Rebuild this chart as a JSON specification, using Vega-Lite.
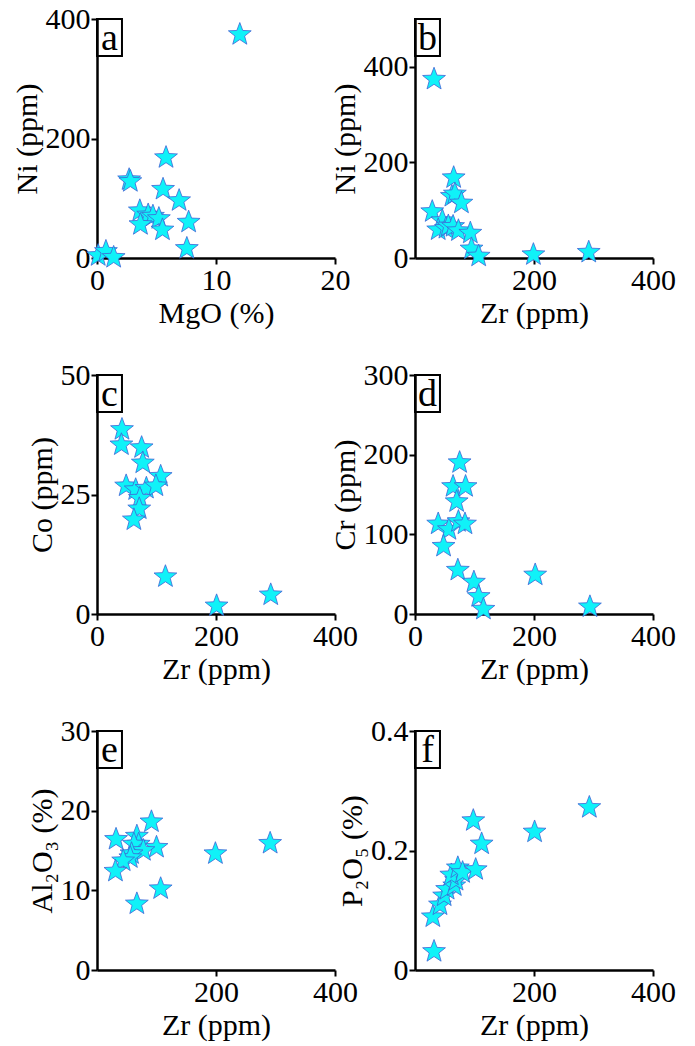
{
  "$schema": "https://vega.github.io/schema/vega-lite/v6.json",
  "padding": {"left": 12, "top": 4, "right": 5, "bottom": 5},
  "background": "white",
  "datasets": {
    "a": [
      {"x": 12.0, "y": 374}, {"x": 5.8, "y": 168}, {"x": 2.7, "y": 131}, {"x": 2.8, "y": 128},
      {"x": 5.55, "y": 115}, {"x": 6.9, "y": 96}, {"x": 3.6, "y": 79}, {"x": 4.3, "y": 72},
      {"x": 4.7, "y": 70}, {"x": 5.2, "y": 66}, {"x": 3.65, "y": 56}, {"x": 7.7, "y": 60},
      {"x": 5.5, "y": 47}, {"x": 7.55, "y": 16}, {"x": 0.1, "y": 4}, {"x": 0.75, "y": 11}, {"x": 1.4, "y": 1}
    ],
    "b": [
      {"x": 32, "y": 374}, {"x": 65, "y": 168}, {"x": 62, "y": 129}, {"x": 67, "y": 134},
      {"x": 78, "y": 115}, {"x": 29, "y": 97}, {"x": 46, "y": 78}, {"x": 39, "y": 59},
      {"x": 52, "y": 62}, {"x": 56, "y": 67}, {"x": 64, "y": 66}, {"x": 73, "y": 57},
      {"x": 93, "y": 52}, {"x": 95, "y": 19}, {"x": 107, "y": 4}, {"x": 199, "y": 7}, {"x": 292, "y": 12}
    ],
    "c": [
      {"x": 42, "y": 38.6}, {"x": 41, "y": 35.4}, {"x": 75, "y": 34.8}, {"x": 77, "y": 31.6},
      {"x": 107, "y": 28.8}, {"x": 49, "y": 26.8}, {"x": 65, "y": 26}, {"x": 83, "y": 26.3},
      {"x": 99, "y": 26.8}, {"x": 72, "y": 24.2}, {"x": 71, "y": 22}, {"x": 62, "y": 19.7},
      {"x": 115, "y": 7.8}, {"x": 201, "y": 1.7}, {"x": 292, "y": 4}
    ],
    "d": [
      {"x": 75, "y": 190}, {"x": 64, "y": 160}, {"x": 85, "y": 160}, {"x": 70, "y": 141},
      {"x": 39, "y": 113}, {"x": 57, "y": 106}, {"x": 73, "y": 116}, {"x": 84, "y": 113},
      {"x": 48, "y": 85}, {"x": 72, "y": 55}, {"x": 99, "y": 40}, {"x": 107, "y": 22},
      {"x": 115, "y": 6}, {"x": 202, "y": 49}, {"x": 294, "y": 9}
    ],
    "e": [
      {"x": 32, "y": 16.4}, {"x": 91.5, "y": 18.6}, {"x": 100, "y": 15.4}, {"x": 67, "y": 16.8},
      {"x": 70, "y": 15.8}, {"x": 62, "y": 15.8}, {"x": 78, "y": 15}, {"x": 58, "y": 14.6},
      {"x": 56, "y": 14.1}, {"x": 44, "y": 13.7}, {"x": 31, "y": 12.4}, {"x": 107, "y": 10.2},
      {"x": 67, "y": 8.3}, {"x": 199, "y": 14.6}, {"x": 291, "y": 15.9}
    ],
    "f": [
      {"x": 32, "y": 0.031}, {"x": 30, "y": 0.089}, {"x": 42, "y": 0.109}, {"x": 49, "y": 0.124},
      {"x": 54, "y": 0.135}, {"x": 66, "y": 0.141}, {"x": 69, "y": 0.15}, {"x": 61, "y": 0.159},
      {"x": 72, "y": 0.171}, {"x": 80, "y": 0.163}, {"x": 102, "y": 0.168}, {"x": 112, "y": 0.211},
      {"x": 98, "y": 0.25}, {"x": 201, "y": 0.231}, {"x": 293, "y": 0.272}
    ],
    "one": [{"k": 1}]
  },
  "columns": 2,
  "spacing": {"row": 117, "column": 80},
  "bounds": "flush",
  "concat": [
    {
      "width": 238, "height": 239,
      "layer": [
        {
          "data": {"name": "a"},
          "mark": {"type": "point", "shape": "M0,-1L0.2469,-0.3398L0.9511,-0.309L0.3995,0.1298L0.5878,0.809L0,0.42L-0.5878,0.809L-0.3995,0.1298L-0.9511,-0.309L-0.2469,-0.3398Z", "size": 576, "filled": true, "fill": "#10F2F8", "stroke": "#3F63D6", "strokeWidth": 0.8, "opacity": 1},
          "encoding": {
            "x": {"field": "x", "type": "quantitative", "scale": {"domain": [0, 20], "nice": false, "zero": false}, "axis": {"values": [0, 10, 20], "title": "MgO (%)"}},
            "y": {"field": "y", "type": "quantitative", "scale": {"domain": [0, 400], "nice": false, "zero": false}, "axis": {"values": [0, 200, 400], "title": "Ni (ppm)"}}
          }
        },
        {
          "data": {"name": "one"},
          "mark": {"type": "point", "shape": "M0,0H1.35V2H0Z", "size": 1369, "filled": false, "stroke": "black", "strokeWidth": 2, "opacity": 1},
          "encoding": {"x": {"datum": 0, "type": "quantitative"}, "y": {"datum": 400, "type": "quantitative"}}
        },
        {
          "data": {"name": "one"},
          "mark": {"type": "text", "fontSize": 38, "align": "center", "baseline": "alphabetic", "color": "black"},
          "encoding": {"x": {"datum": 1.05, "type": "quantitative"}, "y": {"datum": 348, "type": "quantitative"}, "text": {"value": "a"}}
        }
      ]
    },
    {
      "width": 238, "height": 239,
      "layer": [
        {
          "data": {"name": "b"},
          "mark": {"type": "point", "shape": "M0,-1L0.2469,-0.3398L0.9511,-0.309L0.3995,0.1298L0.5878,0.809L0,0.42L-0.5878,0.809L-0.3995,0.1298L-0.9511,-0.309L-0.2469,-0.3398Z", "size": 576, "filled": true, "fill": "#10F2F8", "stroke": "#3F63D6", "strokeWidth": 0.8, "opacity": 1},
          "encoding": {
            "x": {"field": "x", "type": "quantitative", "scale": {"domain": [0, 400], "nice": false, "zero": false}, "axis": {"values": [200, 400], "title": "Zr (ppm)"}},
            "y": {"field": "y", "type": "quantitative", "scale": {"domain": [0, 500], "nice": false, "zero": false}, "axis": {"values": [0, 200, 400], "title": "Ni (ppm)"}}
          }
        },
        {
          "data": {"name": "one"},
          "mark": {"type": "point", "shape": "M0,0H1.35V2H0Z", "size": 1369, "filled": false, "stroke": "black", "strokeWidth": 2, "opacity": 1},
          "encoding": {"x": {"datum": 0, "type": "quantitative"}, "y": {"datum": 500, "type": "quantitative"}}
        },
        {
          "data": {"name": "one"},
          "mark": {"type": "text", "fontSize": 38, "align": "center", "baseline": "alphabetic", "color": "black"},
          "encoding": {"x": {"datum": 21, "type": "quantitative"}, "y": {"datum": 435, "type": "quantitative"}, "text": {"value": "b"}}
        }
      ]
    },
    {
      "width": 238, "height": 239,
      "layer": [
        {
          "data": {"name": "c"},
          "mark": {"type": "point", "shape": "M0,-1L0.2469,-0.3398L0.9511,-0.309L0.3995,0.1298L0.5878,0.809L0,0.42L-0.5878,0.809L-0.3995,0.1298L-0.9511,-0.309L-0.2469,-0.3398Z", "size": 576, "filled": true, "fill": "#10F2F8", "stroke": "#3F63D6", "strokeWidth": 0.8, "opacity": 1},
          "encoding": {
            "x": {"field": "x", "type": "quantitative", "scale": {"domain": [0, 400], "nice": false, "zero": false}, "axis": {"values": [0, 200, 400], "title": "Zr (ppm)"}},
            "y": {"field": "y", "type": "quantitative", "scale": {"domain": [0, 50], "nice": false, "zero": false}, "axis": {"values": [0, 25, 50], "title": "Co (ppm)"}}
          }
        },
        {
          "data": {"name": "one"},
          "mark": {"type": "point", "shape": "M0,0H1.35V2H0Z", "size": 1369, "filled": false, "stroke": "black", "strokeWidth": 2, "opacity": 1},
          "encoding": {"x": {"datum": 0, "type": "quantitative"}, "y": {"datum": 50, "type": "quantitative"}}
        },
        {
          "data": {"name": "one"},
          "mark": {"type": "text", "fontSize": 38, "align": "center", "baseline": "alphabetic", "color": "black"},
          "encoding": {"x": {"datum": 21, "type": "quantitative"}, "y": {"datum": 43.5, "type": "quantitative"}, "text": {"value": "c"}}
        }
      ]
    },
    {
      "width": 238, "height": 239,
      "layer": [
        {
          "data": {"name": "d"},
          "mark": {"type": "point", "shape": "M0,-1L0.2469,-0.3398L0.9511,-0.309L0.3995,0.1298L0.5878,0.809L0,0.42L-0.5878,0.809L-0.3995,0.1298L-0.9511,-0.309L-0.2469,-0.3398Z", "size": 576, "filled": true, "fill": "#10F2F8", "stroke": "#3F63D6", "strokeWidth": 0.8, "opacity": 1},
          "encoding": {
            "x": {"field": "x", "type": "quantitative", "scale": {"domain": [0, 400], "nice": false, "zero": false}, "axis": {"values": [0, 200, 400], "title": "Zr (ppm)"}},
            "y": {"field": "y", "type": "quantitative", "scale": {"domain": [0, 300], "nice": false, "zero": false}, "axis": {"values": [0, 100, 200, 300], "title": "Cr (ppm)"}}
          }
        },
        {
          "data": {"name": "one"},
          "mark": {"type": "point", "shape": "M0,0H1.35V2H0Z", "size": 1369, "filled": false, "stroke": "black", "strokeWidth": 2, "opacity": 1},
          "encoding": {"x": {"datum": 0, "type": "quantitative"}, "y": {"datum": 300, "type": "quantitative"}}
        },
        {
          "data": {"name": "one"},
          "mark": {"type": "text", "fontSize": 38, "align": "center", "baseline": "alphabetic", "color": "black"},
          "encoding": {"x": {"datum": 21, "type": "quantitative"}, "y": {"datum": 261, "type": "quantitative"}, "text": {"value": "d"}}
        }
      ]
    },
    {
      "width": 238, "height": 239,
      "layer": [
        {
          "data": {"name": "e"},
          "mark": {"type": "point", "shape": "M0,-1L0.2469,-0.3398L0.9511,-0.309L0.3995,0.1298L0.5878,0.809L0,0.42L-0.5878,0.809L-0.3995,0.1298L-0.9511,-0.309L-0.2469,-0.3398Z", "size": 576, "filled": true, "fill": "#10F2F8", "stroke": "#3F63D6", "strokeWidth": 0.8, "opacity": 1},
          "encoding": {
            "x": {"field": "x", "type": "quantitative", "scale": {"domain": [0, 400], "nice": false, "zero": false}, "axis": {"values": [200, 400], "title": "Zr (ppm)"}},
            "y": {"field": "y", "type": "quantitative", "scale": {"domain": [0, 30], "nice": false, "zero": false}, "axis": {"values": [0, 10, 20, 30], "title": "Al₂O₃ (%)"}}
          }
        },
        {
          "data": {"name": "one"},
          "mark": {"type": "point", "shape": "M0,0H1.35V2H0Z", "size": 1369, "filled": false, "stroke": "black", "strokeWidth": 2, "opacity": 1},
          "encoding": {"x": {"datum": 0, "type": "quantitative"}, "y": {"datum": 30, "type": "quantitative"}}
        },
        {
          "data": {"name": "one"},
          "mark": {"type": "text", "fontSize": 38, "align": "center", "baseline": "alphabetic", "color": "black"},
          "encoding": {"x": {"datum": 21, "type": "quantitative"}, "y": {"datum": 26.1, "type": "quantitative"}, "text": {"value": "e"}}
        }
      ]
    },
    {
      "width": 238, "height": 239,
      "layer": [
        {
          "data": {"name": "f"},
          "mark": {"type": "point", "shape": "M0,-1L0.2469,-0.3398L0.9511,-0.309L0.3995,0.1298L0.5878,0.809L0,0.42L-0.5878,0.809L-0.3995,0.1298L-0.9511,-0.309L-0.2469,-0.3398Z", "size": 576, "filled": true, "fill": "#10F2F8", "stroke": "#3F63D6", "strokeWidth": 0.8, "opacity": 1},
          "encoding": {
            "x": {"field": "x", "type": "quantitative", "scale": {"domain": [0, 400], "nice": false, "zero": false}, "axis": {"values": [200, 400], "title": "Zr (ppm)"}},
            "y": {"field": "y", "type": "quantitative", "scale": {"domain": [0, 0.4], "nice": false, "zero": false}, "axis": {"values": [0, 0.2, 0.4], "format": "~g", "title": "P₂O₅ (%)"}}
          }
        },
        {
          "data": {"name": "one"},
          "mark": {"type": "point", "shape": "M0,0H1.35V2H0Z", "size": 1369, "filled": false, "stroke": "black", "strokeWidth": 2, "opacity": 1},
          "encoding": {"x": {"datum": 0, "type": "quantitative"}, "y": {"datum": 0.4, "type": "quantitative"}}
        },
        {
          "data": {"name": "one"},
          "mark": {"type": "text", "fontSize": 38, "align": "center", "baseline": "alphabetic", "color": "black"},
          "encoding": {"x": {"datum": 21, "type": "quantitative"}, "y": {"datum": 0.348, "type": "quantitative"}, "text": {"value": "f"}}
        }
      ]
    }
  ],
  "config": {
    "font": "Times New Roman, Liberation Serif, serif",
    "text": {"font": "Times New Roman, Liberation Serif, serif"},
    "view": {"stroke": null},
    "style": {
      "guide-label": {"font": "Times New Roman, Liberation Serif, serif"},
      "guide-title": {"font": "Times New Roman, Liberation Serif, serif"}
    },
    "axis": {
      "grid": false,
      "domainColor": "black",
      "domainWidth": 2.5,
      "tickColor": "black",
      "tickWidth": 2,
      "tickSize": 6,
      "labelFont": "Times New Roman, Liberation Serif, serif",
      "labelFontSize": 30,
      "labelColor": "black",
      "labelPadding": 1,
      "labelFlush": false,
      "labelOverlap": false,
      "titleFont": "Times New Roman, Liberation Serif, serif",
      "titleFontSize": 30,
      "titleFontWeight": "normal",
      "titleColor": "black",
      "titlePadding": 3
    }
  }
}
